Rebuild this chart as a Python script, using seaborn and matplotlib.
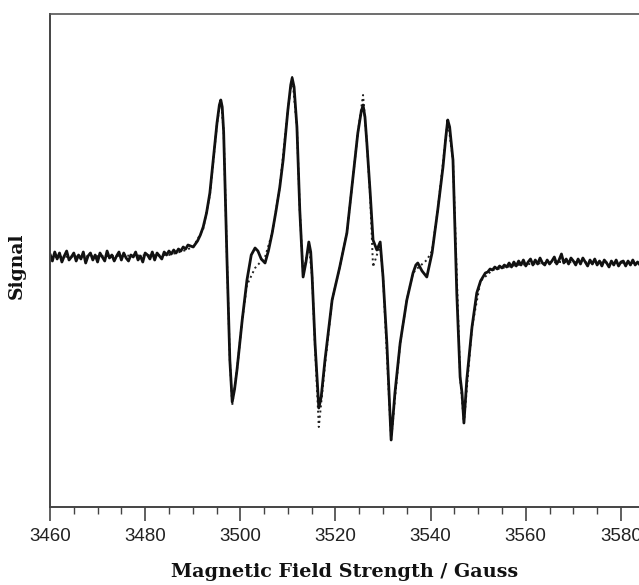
import matplotlib
matplotlib.use("Agg")
import matplotlib.pyplot as plt
from matplotlib.ticker import MultipleLocator
import numpy as np
import pandas as pd
import seaborn as sns

# experimental trace, noisy left baseline (Gauss, arb. units)
base_left_field = [
    3460.0, 3460.5, 3461.0, 3461.5, 3462.0, 3462.5, 3463.0, 3463.5, 3464.0, 3464.5,
    3465.0, 3465.5, 3466.0, 3466.5, 3467.0, 3467.5, 3468.0, 3468.5, 3469.0, 3469.5,
    3470.0, 3470.5, 3471.0, 3471.5, 3472.0, 3472.5, 3473.0, 3473.5, 3474.0, 3474.5,
    3475.0, 3475.5, 3476.0, 3476.5, 3477.0, 3477.5, 3478.0, 3478.5, 3479.0, 3479.5,
    3480.0, 3480.5, 3481.0, 3481.5, 3482.0, 3482.5, 3483.0, 3483.5, 3484.0, 3484.5,
    3485.0, 3485.5, 3486.0, 3486.5, 3487.0, 3487.5, 3488.0, 3488.5, 3489.0,
]
base_left_signal = [
    3, -4, 5, -2, 4, -5, 1, 6, -3, 0,
    4, -4, 2, -2, 5, -6, 1, 4, -3, 2,
    -5, 4, 0, -4, 6, -1, 2, -4, 1, 5,
    -3, 4, -1, -4, 2, 0, 5, -3, 1, -5,
    4, 2, -2, 5, -3, 4, 1, -2, 5, 2,
    6, 3, 7, 4, 8, 6, 10, 8, 12,
]

# experimental trace, the four hyperfine lines
lines_field = [
    3490.1, 3491.0, 3491.6, 3492.2, 3492.9, 3493.6, 3494.3, 3495.1, 3495.6, 3495.9,
    3496.2, 3496.5, 3497.2, 3497.8, 3498.3, 3498.8, 3499.3, 3500.4, 3501.4, 3502.3,
    3503.1, 3503.7, 3504.4, 3505.2, 3505.9, 3506.7, 3507.5, 3508.3, 3509.0, 3510.0,
    3510.6, 3510.9, 3511.3, 3511.9, 3512.5, 3513.2, 3513.8, 3514.4, 3514.8, 3515.1,
    3515.7, 3516.5, 3517.0, 3517.8, 3519.3, 3520.9, 3522.4, 3523.7, 3524.7, 3525.4,
    3525.8, 3526.2, 3526.6, 3527.3, 3527.9, 3528.7, 3529.4, 3530.0, 3530.8, 3531.7,
    3532.5, 3533.6, 3535.0, 3536.3, 3536.9, 3537.3, 3538.2, 3539.2, 3540.3, 3541.5,
    3542.6, 3543.2, 3543.6, 3544.0, 3544.7, 3545.5, 3546.2, 3546.6, 3547.0, 3547.6,
    3548.7, 3549.7, 3550.5,
]
lines_signal = [
    10, 16, 22, 30, 44, 64, 97, 134, 152, 157,
    150, 125, -3, -103, -145, -132, -113, -63, -23, 2,
    9, 6, -2, -6, 6, 24, 46, 70, 97, 147,
    172, 179, 170, 130, 47, -20, -5, 15, 5, -20,
    -86, -151, -140, -103, -43, -10, 24, 80, 124, 145,
    152, 140, 114, 64, 17, 7, 15, -20, -86, -183,
    -136, -86, -43, -16, -8, -6, -14, -20, 4, 47,
    90, 120, 137, 130, 97, -36, -120, -136, -166, -123,
    -70, -36, -24,
]

# experimental trace, noisy right baseline
base_right_field = [
    3551.0, 3551.5, 3552.0, 3552.5, 3553.0, 3553.5, 3554.0, 3554.5, 3555.0, 3555.5,
    3556.0, 3556.5, 3557.0, 3557.5, 3558.0, 3558.5, 3559.0, 3559.5, 3560.0, 3560.5,
    3561.0, 3561.5, 3562.0, 3562.5, 3563.0, 3563.5, 3564.0, 3564.5, 3565.0, 3565.5,
    3566.0, 3566.5, 3567.0, 3567.5, 3568.0, 3568.5, 3569.0, 3569.5, 3570.0, 3570.5,
    3571.0, 3571.5, 3572.0, 3572.5, 3573.0, 3573.5, 3574.0, 3574.5, 3575.0, 3575.5,
    3576.0, 3576.5, 3577.0, 3577.5, 3578.0, 3578.5, 3579.0, 3579.5, 3580.0, 3580.5,
    3581.0, 3581.5, 3582.0, 3582.5, 3583.0, 3583.5, 3584.0,
]
base_right_signal = [
    -20, -16, -15, -12, -13, -10, -12, -9, -11, -8,
    -10, -6, -10, -5, -9, -4, -8, -3, -9, -5,
    -2, -8, -3, -7, -1, -6, -8, -3, -7, -4,
    0, -7, -3, 3, -6, -2, -7, -1, -4, -8,
    -2, -7, -1, -5, -9, -3, -7, -2, -8, -4,
    -9, -3, -6, -10, -4, -8, -3, -9, -5, -4,
    -9, -4, -8, -3, -8, -5, -8,
]

# simulated spectrum (dotted)
sim_field = [
    3460.0, 3485.0, 3488.0, 3490.1, 3492.2, 3493.6, 3494.3, 3495.1, 3495.9, 3496.5,
    3497.2, 3497.8, 3498.3, 3499.3, 3500.4, 3501.4, 3503.1, 3505.2, 3506.7, 3508.3,
    3510.0, 3510.9, 3511.9, 3512.5, 3513.2, 3514.4, 3515.1, 3515.7, 3516.5, 3517.8,
    3519.3, 3520.9, 3522.4, 3524.7, 3525.8, 3526.6, 3527.3, 3527.9, 3528.7, 3529.4,
    3530.0, 3531.7, 3533.6, 3535.0, 3536.3, 3537.3, 3539.2, 3540.3, 3541.5, 3543.6,
    3544.7, 3546.2, 3547.0, 3548.7, 3550.5, 3553.0, 3558.0, 3567.0, 3584.0,
]
sim_signal = [
    0, 2, 6, 10, 28, 62, 95, 133, 158, 126,
    -3, -103, -148, -113, -63, -28, -11, 0, 24, 70,
    147, 180, 130, 47, -18, 12, -20, -90, -170, -108,
    -43, -10, 24, 124, 162, 114, 60, -10, 2, 12,
    -20, -183, -86, -43, -16, -11, -3, 6, 47, 137,
    97, -120, -166, -70, -24, -13, -8, -5, -6,
]

exp_df = pd.DataFrame({
    "field": base_left_field + lines_field + base_right_field,
    "signal": base_left_signal + lines_signal + base_right_signal,
})
sim_df = pd.DataFrame({"field": sim_field, "signal": sim_signal})

sns.set_style("white")
plt.rcParams["font.family"] = ["Liberation Sans", "DejaVu Sans"]

fig = plt.figure(figsize=(6.39, 5.85), dpi=100)
ax = fig.add_axes([50 / 639, 78 / 585, 589 / 639, 493 / 585])

sns.lineplot(data=sim_df, x="field", y="signal", ax=ax, color="#222222",
             lw=1.4, linestyle=":", estimator=None, sort=False)
sns.lineplot(data=exp_df, x="field", y="signal", ax=ax, color="#111111",
             lw=2.0, estimator=None, sort=False)

ax.set_xlim(3460, 3583.8)
ax.set_ylim(-250, 243)
ax.set_yticks([])
ax.xaxis.set_major_locator(MultipleLocator(20))
ax.xaxis.set_minor_locator(MultipleLocator(5))
ax.tick_params(axis="x", which="major", direction="out", length=10, width=1.2,
               color="#444444", labelsize=13.5, labelcolor="#222222", pad=5,
               bottom=True)
ax.tick_params(axis="x", which="minor", direction="out", length=5, width=1.0,
               color="#444444", bottom=True)

for side in ("left", "bottom"):
    ax.spines[side].set_color("#444444")
    ax.spines[side].set_linewidth(1.4)
ax.spines["top"].set_color("#555555")
ax.spines["top"].set_linewidth(1.2)
ax.spines["right"].set_visible(False)

ax.set_xlabel("Magnetic Field Strength / Gauss", family="DejaVu Serif",
              fontweight="bold", fontsize=13.8, color="#111111", labelpad=13)
ax.set_ylabel("Signal", family="DejaVu Serif", fontweight="bold",
              fontsize=13.5, color="#111111")
ax.yaxis.set_label_coords(-0.042, 0.49)

fig.savefig("out.png", dpi=100)
